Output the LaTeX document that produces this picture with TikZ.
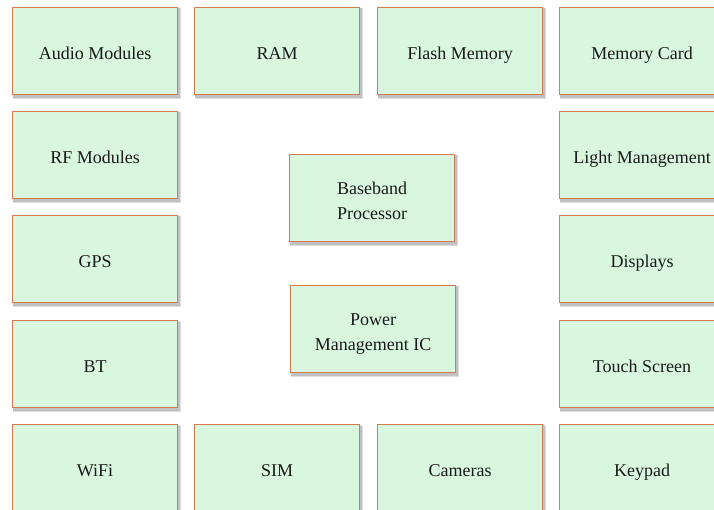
\documentclass[tikz,border=0pt]{standalone}
\usepackage{fontspec}
\setmainfont{Liberation Serif}
\usetikzlibrary{backgrounds}
\definecolor{boxfill}{HTML}{D9F7DE}
\definecolor{boxline}{HTML}{D77A50}
\definecolor{txt}{HTML}{1A1A1A}
\newcommand{\boxtext}[1]{\raisebox{-3.75pt}[\height][\depth]{\begin{tabular}{@{}c@{}}#1\end{tabular}}}
\tikzset{
  x=1pt,y=1pt,
  blk/.style={draw=boxline, line width=1.1pt, fill=boxfill, minimum width=165pt, minimum height=87pt,
    inner sep=0pt, anchor=north west, font=\fontsize{18}{25}\selectfont, text=txt},
  shad/.style={fill=black, fill opacity=0.13}
}
\begin{document}
\begin{tikzpicture}
% row 1
\node[blk] (audio) at (12,-7) {\boxtext{Audio Modules}};
\node[blk] (ram) at (194,-7) {\boxtext{RAM}};
\node[blk] (flash) at (377,-7) {\boxtext{Flash Memory}};
\node[blk] (card) at (559,-7) {\boxtext{Memory Card}};
% left column
\node[blk] (rf) at (12,-111) {\boxtext{RF Modules}};
\node[blk] (gps) at (12,-215) {\boxtext{GPS}};
\node[blk] (bt) at (12,-320) {\boxtext{BT}};
% right column
\node[blk] (light) at (559,-111) {\boxtext{Light Management}};
\node[blk] (disp) at (559,-215) {\boxtext{Displays}};
\node[blk] (touch) at (559,-320) {\boxtext{Touch Screen}};
% bottom row
\node[blk] (wifi) at (12,-424) {\boxtext{WiFi}};
\node[blk] (sim) at (194,-424) {\boxtext{SIM}};
\node[blk] (cam) at (377,-424) {\boxtext{Cameras}};
\node[blk] (key) at (559,-424) {\boxtext{Keypad}};
% center
\node[blk] (bb) at (289,-154) {\boxtext{Baseband\\Processor}};
\node[blk] (pmic) at (290,-285) {\boxtext{Power\\Management IC}};
\begin{scope}[on background layer]
\fill[white] (0,0) rectangle (714,-510);
\foreach \n in {audio,ram,flash,card,rf,gps,bt,light,disp,touch,wifi,sim,cam,key,bb,pmic}{
  \fill[shad] ([shift={(0.5,-1)}]\n.north west) rectangle ([shift={(1.5,-3)}]\n.south east);
  \fill[shad] ([shift={(1,-1.5)}]\n.north west) rectangle ([shift={(2.5,-4)}]\n.south east);
}
\end{scope}
\pgfresetboundingbox
\useasboundingbox (0,0) rectangle (714,-510);
\end{tikzpicture}
\end{document}
